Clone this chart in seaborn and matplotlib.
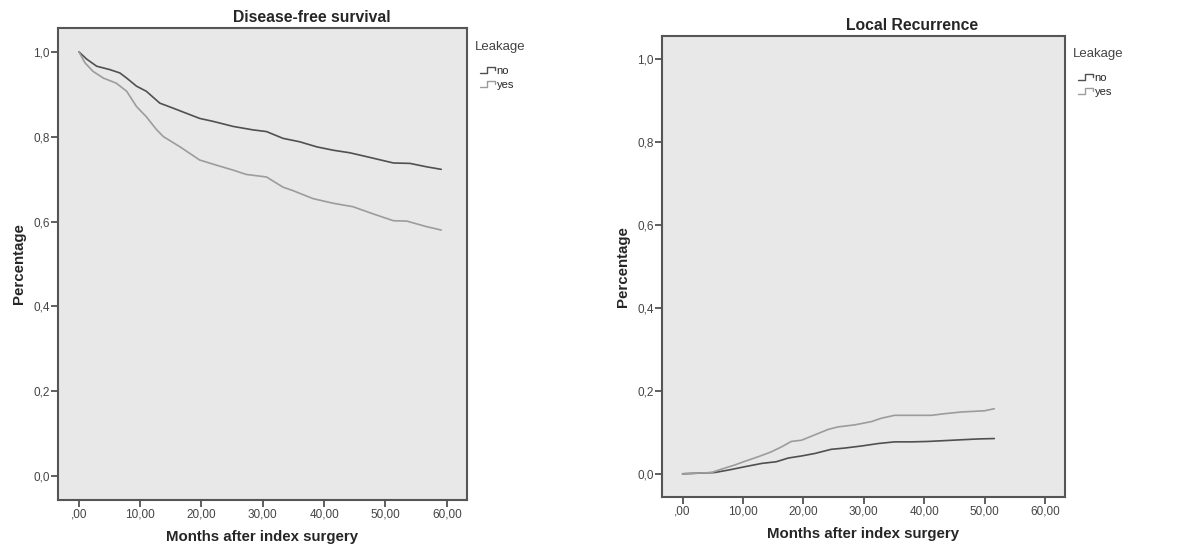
import pandas as pd
import matplotlib
matplotlib.use("Agg")
import matplotlib.pyplot as plt
from matplotlib.legend_handler import HandlerBase
from matplotlib.lines import Line2D
import seaborn as sns

# Disease-free survival (Kaplan-Meier)
dfs_no_months = [0, 1.25, 2.9, 5.05, 6.7, 7.8, 9.4, 11.0, 13.2, 15.4, 19.7, 21.9, 25.2, 28.4,
                 30.6, 33.3, 36.0, 38.8, 41.5, 44.2, 46.9, 51.3, 54.0, 56.7, 59.1]
dfs_no_value = [1.0, 0.983, 0.966, 0.958, 0.950, 0.938, 0.919, 0.907, 0.879, 0.867, 0.843, 0.836,
                0.824, 0.816, 0.812, 0.796, 0.788, 0.776, 0.768, 0.762, 0.753, 0.738, 0.737, 0.729, 0.723]
dfs_yes_months = [0, 1.0, 2.3, 4.0, 6.1, 7.8, 9.4, 11.0, 12.7, 13.8, 16.5, 19.7, 22.4, 25.2, 27.3,
                  30.6, 33.3, 34.9, 38.2, 41.5, 44.7, 48.0, 51.3, 53.5, 56.7, 59.1]
dfs_yes_value = [1.0, 0.974, 0.954, 0.938, 0.926, 0.907, 0.871, 0.847, 0.816, 0.800, 0.776, 0.745,
                 0.733, 0.721, 0.711, 0.705, 0.681, 0.673, 0.654, 0.643, 0.635, 0.618, 0.602, 0.601,
                 0.588, 0.580]

# Local recurrence (cumulative incidence)
lr_no_months = [0, 5.3, 7.6, 10.3, 13.1, 15.5, 17.5, 19.7, 21.9, 24.6, 26.8, 29.6, 32.4, 35.1,
                37.9, 40.6, 43.4, 46.1, 48.9, 51.6]
lr_no_value = [0.0, 0.003, 0.009, 0.017, 0.025, 0.029, 0.038, 0.043, 0.049, 0.059, 0.062, 0.067,
               0.073, 0.077, 0.077, 0.078, 0.080, 0.082, 0.084, 0.085]
lr_yes_months = [0, 4.8, 6.4, 8.6, 10.3, 12.5, 14.7, 16.4, 18.0, 19.7, 21.9, 24.1, 25.7, 28.5,
                 31.3, 32.9, 35.1, 37.9, 41.2, 43.4, 46.1, 50.0, 51.6]
lr_yes_value = [0.0, 0.003, 0.011, 0.021, 0.030, 0.041, 0.053, 0.065, 0.078, 0.081, 0.094, 0.107,
                0.113, 0.118, 0.126, 0.134, 0.141, 0.141, 0.141, 0.145, 0.149, 0.152, 0.157]

groups = ["no", "yes"]
x_ticks = [0, 10, 20, 30, 40, 50, 60]
x_tick_labels = [",00", "10,00", "20,00", "30,00", "40,00", "50,00", "60,00"]
y_ticks = [0.0, 0.2, 0.4, 0.6, 0.8, 1.0]
y_tick_labels = ["0,0", "0,2", "0,4", "0,6", "0,8", "1,0"]


def make_df(no_x, no_y, yes_x, yes_y):
    a = pd.DataFrame({"months": no_x, "value": no_y, "Leakage": "no"})
    b = pd.DataFrame({"months": yes_x, "value": yes_y, "Leakage": "yes"})
    return pd.concat([a, b], ignore_index=True)


dfs = make_df(dfs_no_months, dfs_no_value, dfs_yes_months, dfs_yes_value)
lr = make_df(lr_no_months, lr_no_value, lr_yes_months, lr_yes_value)

palette = {"no": "#505050", "yes": "#9c9c9c"}


class StepHandler(HandlerBase):
    # small step-shaped legend key like in SPSS output
    def create_artists(self, legend, orig_handle, xdescent, ydescent, width, height, fontsize, trans):
        x0, w, h = -xdescent + 0.25 * width, 0.75 * width, height
        xs = [x0, x0 + 0.45 * w, x0 + 0.45 * w, x0 + 0.95 * w, x0 + 0.95 * w]
        ys = [-ydescent + 0.1 * h, -ydescent + 0.1 * h, -ydescent + 0.9 * h,
              -ydescent + 0.9 * h, -ydescent + 0.5 * h]
        line = Line2D(xs, ys, color=orig_handle.get_color(), lw=1.0, transform=trans)
        return [line]


sns.set_style("white")
plt.rcParams["font.family"] = ["Liberation Sans", "DejaVu Sans"]

fig = plt.figure(figsize=(11.9, 5.52), dpi=100)
ax1 = fig.add_axes([58 / 1190, 52 / 552, 409 / 1190, 472 / 552])
ax2 = fig.add_axes([662 / 1190, 55 / 552, 403 / 1190, 461 / 552])

setups = [
    (ax1, dfs, "Disease-free survival", 0.62, 0.986),
    (ax2, lr, "Local Recurrence", 0.62, 0.988),
]

for ax, data, title, title_x, leg_y in setups:
    sns.lineplot(data=data, x="months", y="value", hue="Leakage", hue_order=groups,
                 palette=palette, linewidth=1.2, legend=False, ax=ax)
    ax.set_facecolor("#e8e8e8")
    ax.set_xlim(-3.4, 63.3)
    ax.set_ylim(-0.056, 1.056)
    ax.set_xticks(x_ticks)
    ax.set_xticklabels(x_tick_labels)
    ax.set_yticks(y_ticks)
    ax.set_yticklabels(y_tick_labels)
    ax.tick_params(axis="both", direction="out", length=5, width=1.2, color="#444444",
                   labelsize=8.5, labelcolor="#444444", pad=1, bottom=True, left=True)
    for s in ax.spines.values():
        s.set_color("#555555")
        s.set_linewidth(1.5)
    ax.set_xlabel("Months after index surgery", fontsize=10.8, fontweight="bold", labelpad=7)
    ax.set_ylabel("Percentage", fontsize=10.8, fontweight="bold", labelpad=5)
    ax.text(title_x, 1.006, title, transform=ax.transAxes, ha="center", va="bottom",
            fontsize=11.3, fontweight="bold")

    handles = [Line2D([], [], color=palette[g]) for g in groups]
    leg = ax.legend(handles, groups, title="Leakage", loc="upper left",
                    bbox_to_anchor=(1.002, leg_y), frameon=False, fontsize=8,
                    title_fontsize=9.5, handler_map={Line2D: StepHandler()},
                    handlelength=1.9, handleheight=0.8, handletextpad=0.1,
                    labelspacing=0.35, borderaxespad=0.2)
    leg._legend_box.align = "left"
    leg._legend_box.sep = 9
    leg.get_title().set_color("#444444")

fig.savefig("out.png", dpi=100)
